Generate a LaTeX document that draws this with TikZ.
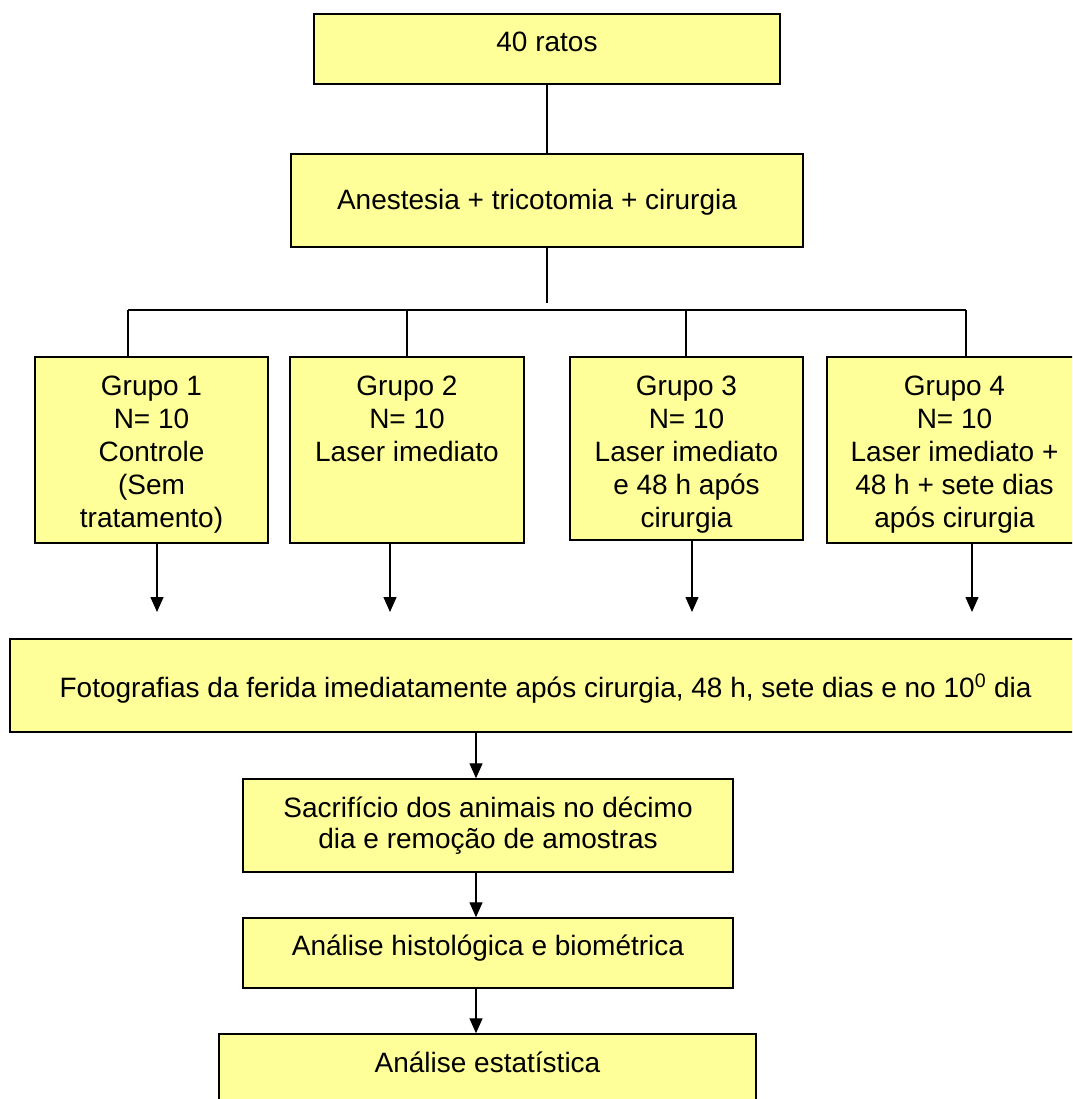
\documentclass[tikz,border=0pt]{standalone}
\usepackage{fontspec}
\setmainfont{Liberation Sans}
\usetikzlibrary{arrows.meta}
\definecolor{boxfill}{HTML}{FFFF99}
\newcommand{\boxtxt}[1]{\begin{tabular}[t]{@{}c@{}}#1\end{tabular}}
\begin{document}
\begin{tikzpicture}[x=1pt,y=-1pt,
  box/.style={draw=black, fill=boxfill, line width=1.4pt, inner ysep=0pt, inner xsep=2pt,
    font=\fontsize{28}{33}\selectfont},
  conn/.style={line width=1.3pt},
  bar/.style={line width=1.9pt},
  arr/.style={line width=1.3pt, -{Triangle[width=13pt,length=15pt]}},
  ]
\useasboundingbox (0,0) rectangle (1072,1099);
\clip (0,0) rectangle (1072,1099);

% boxes
\node[box, minimum width=466pt, text height=38pt, text depth=32pt] (ratos) at (547,49) {\boxtxt{40 ratos}};
\node[box, minimum width=512pt, text height=56pt, text depth=37pt] (anest) at (547,200.5) {\boxtxt{Anestesia + tricotomia + cirurgia\hspace*{20pt}}};

\node[box, minimum width=233pt, text height=38pt, text depth=148pt] (g1) at (151.5,450) {\boxtxt{Grupo 1\\N= 10\\Controle\\(Sem\\tratamento)}};
\node[box, minimum width=234pt, text height=38pt, text depth=148pt] (g2) at (407,450) {\boxtxt{Grupo 2\\N= 10\\Laser imediato}};
\node[box, minimum width=233pt, text height=38pt, text depth=145pt] (g3) at (686.5,448.5) {\boxtxt{Grupo 3\\N= 10\\Laser imediato\\e 48 h após\\cirurgia}};
\node[box, minimum width=255pt, text height=38pt, text depth=148pt] (g4) at (954.5,450) {\boxtxt{Grupo 4\\N= 10\\Laser imediato +\\48 h + sete dias\\após cirurgia}};

\node[box, minimum width=1071pt, text height=58pt, text depth=35pt] (fot) at (545.5,685.5) {\boxtxt{Fotografias da ferida imediatamente após cirurgia, 48 h, sete dias e no 10\textsuperscript{0} dia}};
\node[box, minimum width=490pt, text height=38pt, text depth=55pt] (sac) at (488,825.5) {\boxtxt{Sacrifício dos animais no décimo\\[-2pt]dia e remoção de amostras}};
\node[box, minimum width=490pt, text height=37pt, text depth=33pt] (hist) at (488,953) {\boxtxt{Análise histológica e biométrica}};
\node[box, minimum width=537pt, text height=38pt, text depth=62pt] (est) at (487.5,1084) {\boxtxt{Análise estatística}};

% coordinates
\coordinate (split) at (547,303);
\coordinate (c1) at (128,310);
\coordinate (c2) at (407,310);
\coordinate (c3) at (686,310);
\coordinate (c4) at (966,310);
\coordinate (a1) at (157,612);
\coordinate (a2) at (390,612);
\coordinate (a3) at (692,612);
\coordinate (a4) at (972,612);
\coordinate (ax) at (476,0);

% connectors
\draw[conn] (ratos.south) -- (anest.north);
\draw[conn] (anest.south) -- (split);
\draw[bar] (c1) -- (c4);
\draw[conn] (c1) -- (g1.north -| c1);
\draw[conn] (c2) -- (g2.north -| c2);
\draw[conn] (c3) -- (g3.north -| c3);
\draw[conn] (c4) -- (g4.north -| c4);

\draw[arr] (g1.south -| a1) -- (a1);
\draw[arr] (g2.south -| a2) -- (a2);
\draw[arr] (g3.south -| a3) -- (a3);
\draw[arr] (g4.south -| a4) -- (a4);

\draw[arr] (fot.south -| ax) -- (sac.north -| ax);
\draw[arr] (sac.south -| ax) -- (hist.north -| ax);
\draw[arr] (hist.south -| ax) -- (est.north -| ax);
\end{tikzpicture}
\end{document}
